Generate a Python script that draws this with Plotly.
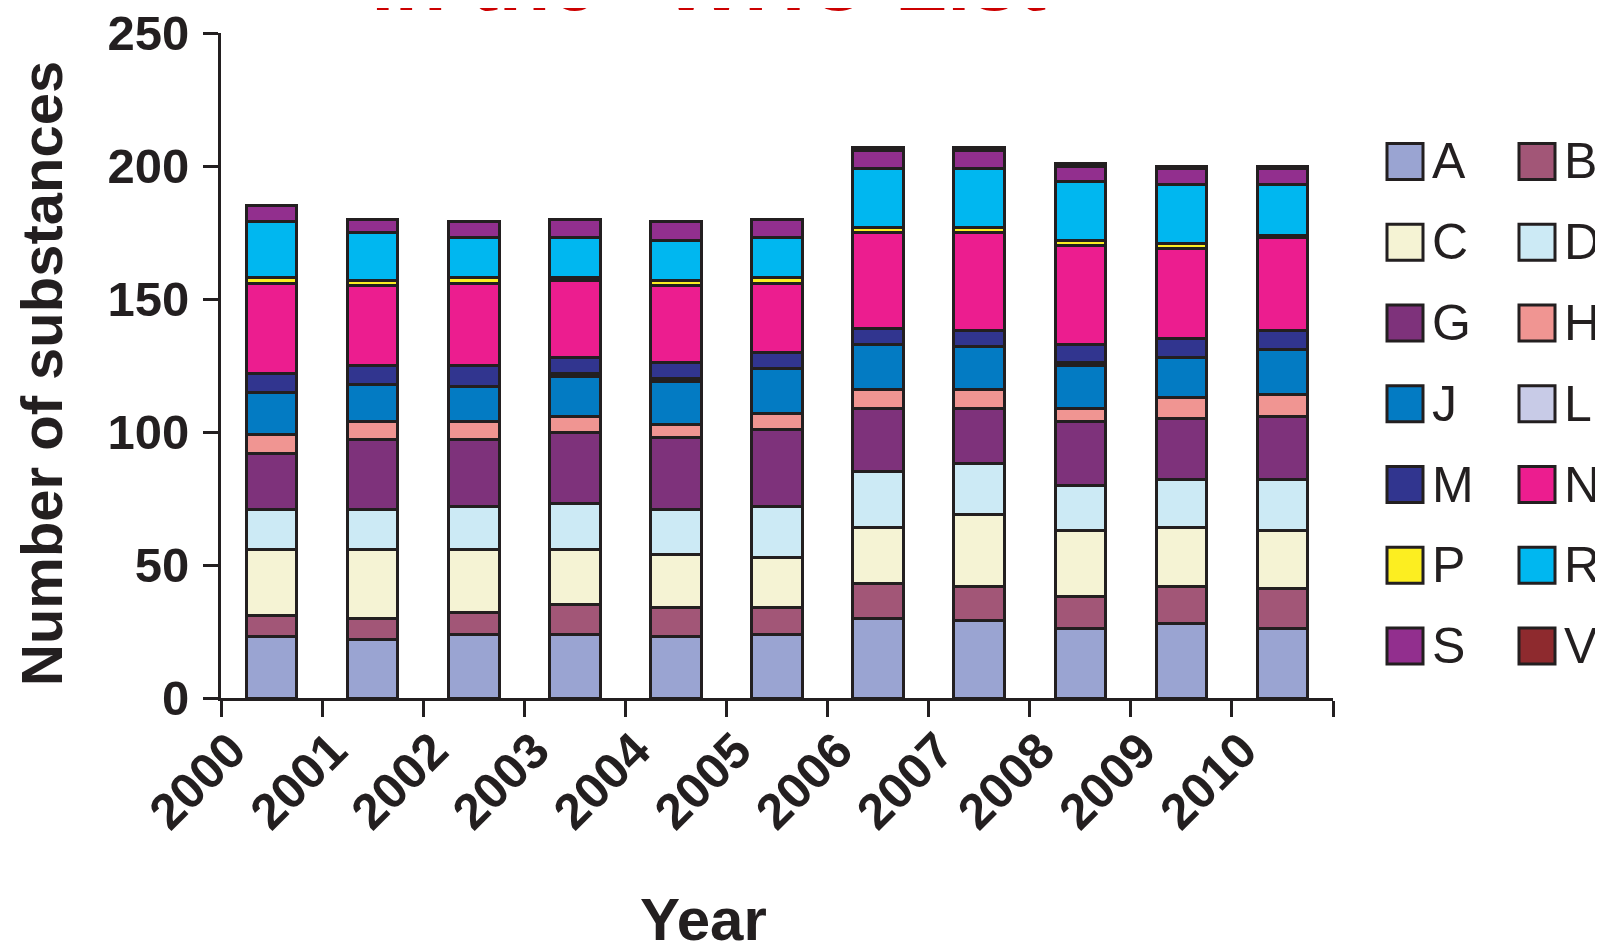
import plotly.graph_objects as go

# ---------------- data ----------------
years = [2000, 2001, 2002, 2003, 2004, 2005, 2006, 2007, 2008, 2009, 2010]
year_labels = ["2000", "2001", "2002", "2003", "2004", "2005", "2006", "2007", "2008", "2009", "2010"]

A = [23, 22, 24, 24, 23, 24, 30, 29, 26, 28, 26]
B = [8, 8, 8, 11, 11, 10, 13, 13, 12, 14, 15]
C = [25, 26, 24, 21, 20, 19, 21, 27, 25, 22, 22]
D = [15, 15, 16, 17, 17, 19, 21, 19, 17, 18, 19]
G = [21, 26, 25, 27, 27, 29, 24, 21, 24, 23, 24]
H = [7, 7, 7, 6, 5, 6, 7, 7, 5, 8, 8]
J = [16, 14, 13, 15, 16, 17, 17, 16, 16, 15, 17]
L = [0, 0, 0, 1, 1, 0, 0, 0, 1, 0, 0]
M = [7, 7, 8, 6, 6, 6, 6, 6, 7, 7, 7]
N = [34, 30, 31, 29, 29, 26, 36, 37, 37, 34, 35]
P = [2, 2, 2, 1, 2, 2, 2, 2, 2, 2, 1]
R = [21, 18, 15, 15, 15, 15, 22, 22, 22, 22, 19]
S = [6, 5, 6, 7, 7, 7, 7, 7, 6, 6, 6]
V = [0, 0, 0, 0, 0, 0, 1, 1, 1, 1, 1]

series_names = ["A", "B", "C", "D", "G", "H", "J", "L", "M", "N", "P", "R", "S", "V"]
series_values = [A, B, C, D, G, H, J, L, M, N, P, R, S, V]
series_colors = ["#9AA4D2", "#A25677", "#F5F3D4", "#CCEAF5", "#7E327B", "#F09592",
                 "#037BC3", "#C8CBE7", "#31358F", "#EC1D8F", "#FCEE21", "#00B7F0",
                 "#922F8E", "#8E2A2E"]

y_ticks = [0, 50, 100, 150, 200, 250]
y_title = "Number of substances"
x_title = "Year"
top_title = "in the \u201cWHO List\u201d"

# ---------------- style ----------------
INK = "#231F20"
W, Hgt = 1603, 950
ML, MR, MT, MB = 213, 278, 25, 260
FONT = "Liberation Sans, Arial, sans-serif"
LABEL_SHIFT = 0.40   # Excel-like placement of the rotated year labels

fig = go.Figure()
for name, vals, col in zip(series_names, series_values, series_colors):
    fig.add_trace(go.Bar(
        x=years, y=vals, name=name,
        marker=dict(color=col, line=dict(color=INK, width=3)),
        showlegend=False,
    ))

fig.update_layout(
    width=W, height=Hgt,
    barmode="stack", bargap=0.5,
    plot_bgcolor="white", paper_bgcolor="white",
    margin=dict(l=ML, r=MR, t=MT, b=MB, autoexpand=False),
    font=dict(family=FONT, color=INK),
)

fig.update_yaxes(
    range=[0, 250], tickvals=y_ticks, showgrid=False, zeroline=False,
    showline=True, linecolor=INK, linewidth=3,
    ticks="outside", ticklen=15, tickwidth=3, tickcolor=INK,
    tickfont=dict(family=FONT, size=49, color=INK, weight="bold"),
    ticklabelstandoff=4, ticklabeloverflow="allow",
)
fig.update_xaxes(
    range=[years[0] - 0.5, years[-1] + 0.5],
    showgrid=False, zeroline=False,
    showline=True, linecolor=INK, linewidth=3,
    tickmode="array",
    tickvals=[y - LABEL_SHIFT for y in years], ticktext=year_labels,
    ticks="", tickangle=-45, ticklabeloverflow="allow",
    tickfont=dict(family=FONT, size=50, color=INK, weight="bold"),
    minor=dict(tickmode="array",
               tickvals=[y - 0.5 for y in years] + [years[-1] + 0.5],
               ticks="outside", ticklen=16, tickwidth=3, tickcolor=INK, showgrid=False),
)

def px_to_paper(px, py):
    return (px - ML) / (W - ML - MR), (Hgt - MB - py) / (Hgt - MT - MB)

# y-axis title
ytx, yty = px_to_paper(33, 366)
fig.add_annotation(x=ytx, y=yty, xref="paper", yref="paper", text=y_title, showarrow=False,
                   textangle=-90, xanchor="center", yanchor="middle",
                   font=dict(family=FONT, size=58, color=INK, weight="bold"))

# x-axis title
xt, yt = px_to_paper(695, 911)
fig.add_annotation(x=xt, y=yt, xref="paper", yref="paper", text=x_title, showarrow=False,
                   xanchor="center", yanchor="middle",
                   font=dict(family=FONT, size=60, color=INK, weight="bold"))

# clipped red title at the very top
tx, ty = px_to_paper(722, -27)
fig.add_annotation(x=tx, y=ty, xref="paper", yref="paper", text=top_title, showarrow=False,
                   xanchor="center", yanchor="middle",
                   font=dict(family=FONT, size=85, color="#CC0000", weight="bold"))

# legend: two columns, seven rows
col_x = [1379, 1511]
row_y = [153.5, 234.3, 315, 395.8, 476.6, 557.3, 638.1]
sw = 36
for i, (name, col) in enumerate(zip(series_names, series_colors)):
    cx = col_x[i % 2]
    cy = row_y[i // 2]
    x0, y0 = px_to_paper(cx, cy + sw / 2)
    x1, y1 = px_to_paper(cx + sw, cy - sw / 2)
    fig.add_shape(type="rect", xref="paper", yref="paper", x0=x0, y0=y0, x1=x1, y1=y1,
                  fillcolor=col, line=dict(color=INK, width=3))
    lx, ly = px_to_paper(cx + sw + 7, cy)
    fig.add_annotation(x=lx, y=ly, xref="paper", yref="paper", text=name, showarrow=False,
                       xanchor="left", yanchor="middle",
                       font=dict(family=FONT, size=50, color=INK))

fig.write_html("out.html")
